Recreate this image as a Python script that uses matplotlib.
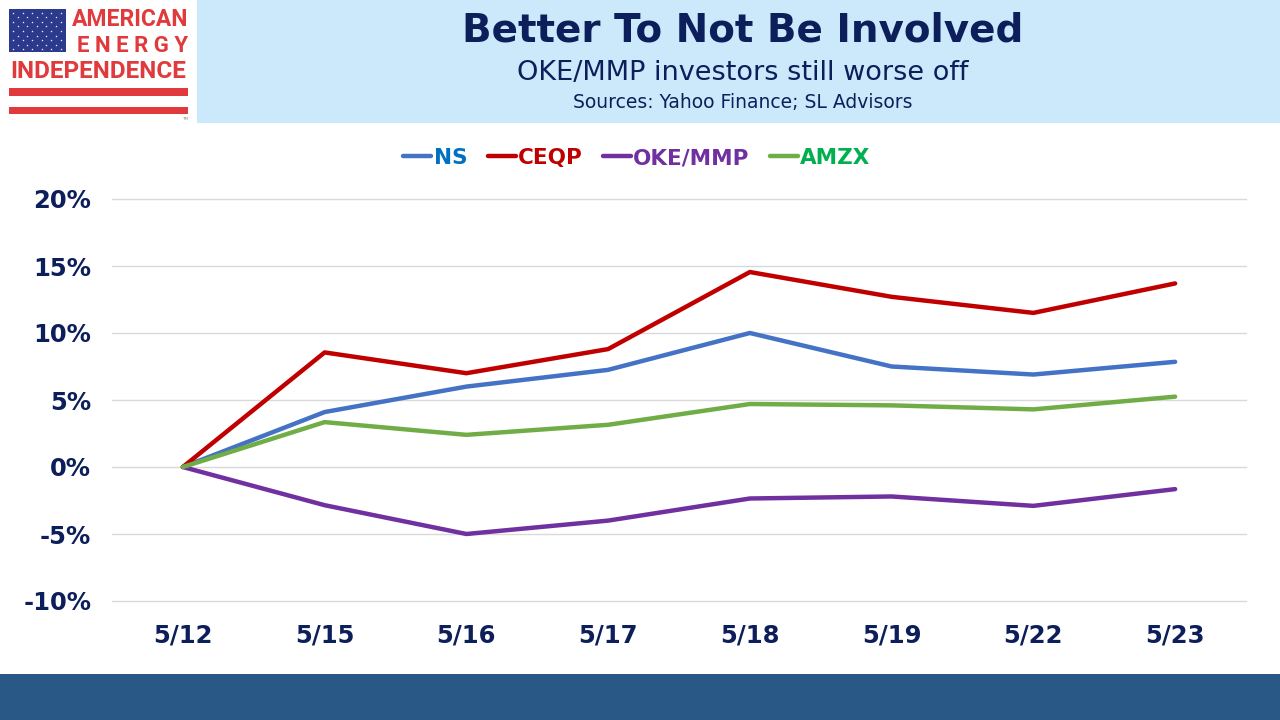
import numpy as np
import matplotlib
matplotlib.use("Agg")
import matplotlib.pyplot as plt
from matplotlib.patches import Rectangle


# 数据：每日累计收益率(%)
dates = ['5/12', '5/15', '5/16', '5/17', '5/18', '5/19', '5/22', '5/23']
ns = [0.0, 4.1, 6.0, 7.25, 10.0, 7.5, 6.9, 7.85]
ceqp = [0.0, 8.55, 7.0, 8.8, 14.55, 12.7, 11.5, 13.7]
oke_mmp = [0.0, -2.85, -5.0, -4.0, -2.35, -2.2, -2.9, -1.65]
amzx = [0.0, 3.35, 2.4, 3.15, 4.7, 4.6, 4.3, 5.25]
y_ticks = [-10, -5, 0, 5, 10, 15, 20]

series_names = ['NS', 'CEQP', 'OKE/MMP', 'AMZX']
line_colors = ['#4472C4', '#C00000', '#7030A0', '#70AD47']
text_colors = ['#0070C0', '#C00000', '#7030A0', '#00B050']

navy = '#0D1F5B'
logo_red = '#E03A3C'


def draw_header(fig):
    # 背景层，用像素坐标画装饰
    bg = fig.add_axes([0, 0, 1, 1], zorder=-1)
    bg.set_xlim(0, 1280)
    bg.set_ylim(720, 0)
    bg.axis('off')

    # 浅蓝标题框和底部色带
    bg.add_patch(Rectangle((197, 0), 1083, 123, color='#CCE8FB', lw=0))
    bg.add_patch(Rectangle((0, 674), 1280, 46, color='#2A5886', lw=0))

    # logo：国旗
    bg.add_patch(Rectangle((9, 9), 57, 43, color='#2B3A8C', lw=0))
    for r in range(9):
        ncol = 6 if r % 2 == 0 else 5
        off = 0 if r % 2 == 0 else 4.5
        xs = 13 + off + np.arange(ncol) * 9.5
        ys = np.full(ncol, 12.5 + r * 4.6)
        bg.scatter(xs, ys, s=3, color='white', marker='*', lw=0)
    bg.add_patch(Rectangle((9, 88), 179, 8, color=logo_red, lw=0))
    bg.add_patch(Rectangle((9, 107), 179, 7, color=logo_red, lw=0))

    bg.text(188, 20, 'AMERICAN', ha='right', va='center', color=logo_red,
            fontsize=16.5, fontweight='bold', family='Roboto')
    bg.text(188, 46, 'E N E R G Y', ha='right', va='center', color=logo_red,
            fontsize=16, fontweight='bold', family='Roboto')
    bg.text(98, 72, 'INDEPENDENCE', ha='center', va='center', color=logo_red,
            fontsize=17.5, fontweight='bold', family='Roboto')
    bg.text(185, 119, 'TM', ha='center', va='center', color='#888888', fontsize=3)

    # 标题
    bg.text(743, 31, 'Better To Not Be Involved', ha='center', va='center',
            color=navy, fontsize=28, fontweight='bold')
    bg.text(743, 73, 'OKE/MMP investors still worse off', ha='center', va='center',
            color=navy, fontsize=19.5)
    bg.text(743, 102, 'Sources: Yahoo Finance; SL Advisors', ha='center', va='center',
            color=navy, fontsize=13.5)


def main():
    plt.rcParams['font.family'] = ['DejaVu Sans']
    fig = plt.figure(figsize=(12.8, 7.2), dpi=100)
    fig.patch.set_facecolor('white')
    draw_header(fig)

    ax = fig.add_axes([112 / 1280, 1 - 601 / 720, (1246 - 112) / 1280, (601 - 199) / 720])
    ax.set_facecolor('none')

    x = np.arange(len(dates))
    handles = []
    for vals, name, c in zip([ns, ceqp, oke_mmp, amzx], series_names, line_colors):
        h, = ax.plot(x, vals, color=c, lw=3.2, label=name, solid_capstyle='round',
                     solid_joinstyle='round')
        handles.append(h)

    ax.set_xlim(-0.5, len(dates) - 0.5)
    ax.set_ylim(-10, 20)
    ax.set_yticks(y_ticks)
    ax.set_yticklabels([f'{v}%' for v in y_ticks])
    ax.set_xticks(x)
    ax.set_xticklabels(dates)
    ax.tick_params(axis='y', length=0, pad=15, labelsize=17.5, labelcolor=navy)
    ax.tick_params(axis='x', length=0, pad=16, labelsize=17.5, labelcolor=navy)
    for lab in ax.get_xticklabels() + ax.get_yticklabels():
        lab.set_fontweight('bold')

    ax.grid(axis='y', color='#D9D9D9', lw=1)
    for gl in ax.get_ygridlines():
        gl.set_clip_on(False)
    ax.set_axisbelow(True)
    for s in ax.spines.values():
        s.set_visible(False)

    fig.legend(handles=handles, loc='center', bbox_to_anchor=(637 / 1280, 1 - 158 / 720),
               ncol=4, frameon=False, handlelength=1.3, handletextpad=0.1,
               columnspacing=0.95, labelcolor=text_colors,
               prop={'weight': 'bold', 'size': 15.5})

    fig.savefig('out.png', dpi=100)


if __name__ == "__main__":
    main()
